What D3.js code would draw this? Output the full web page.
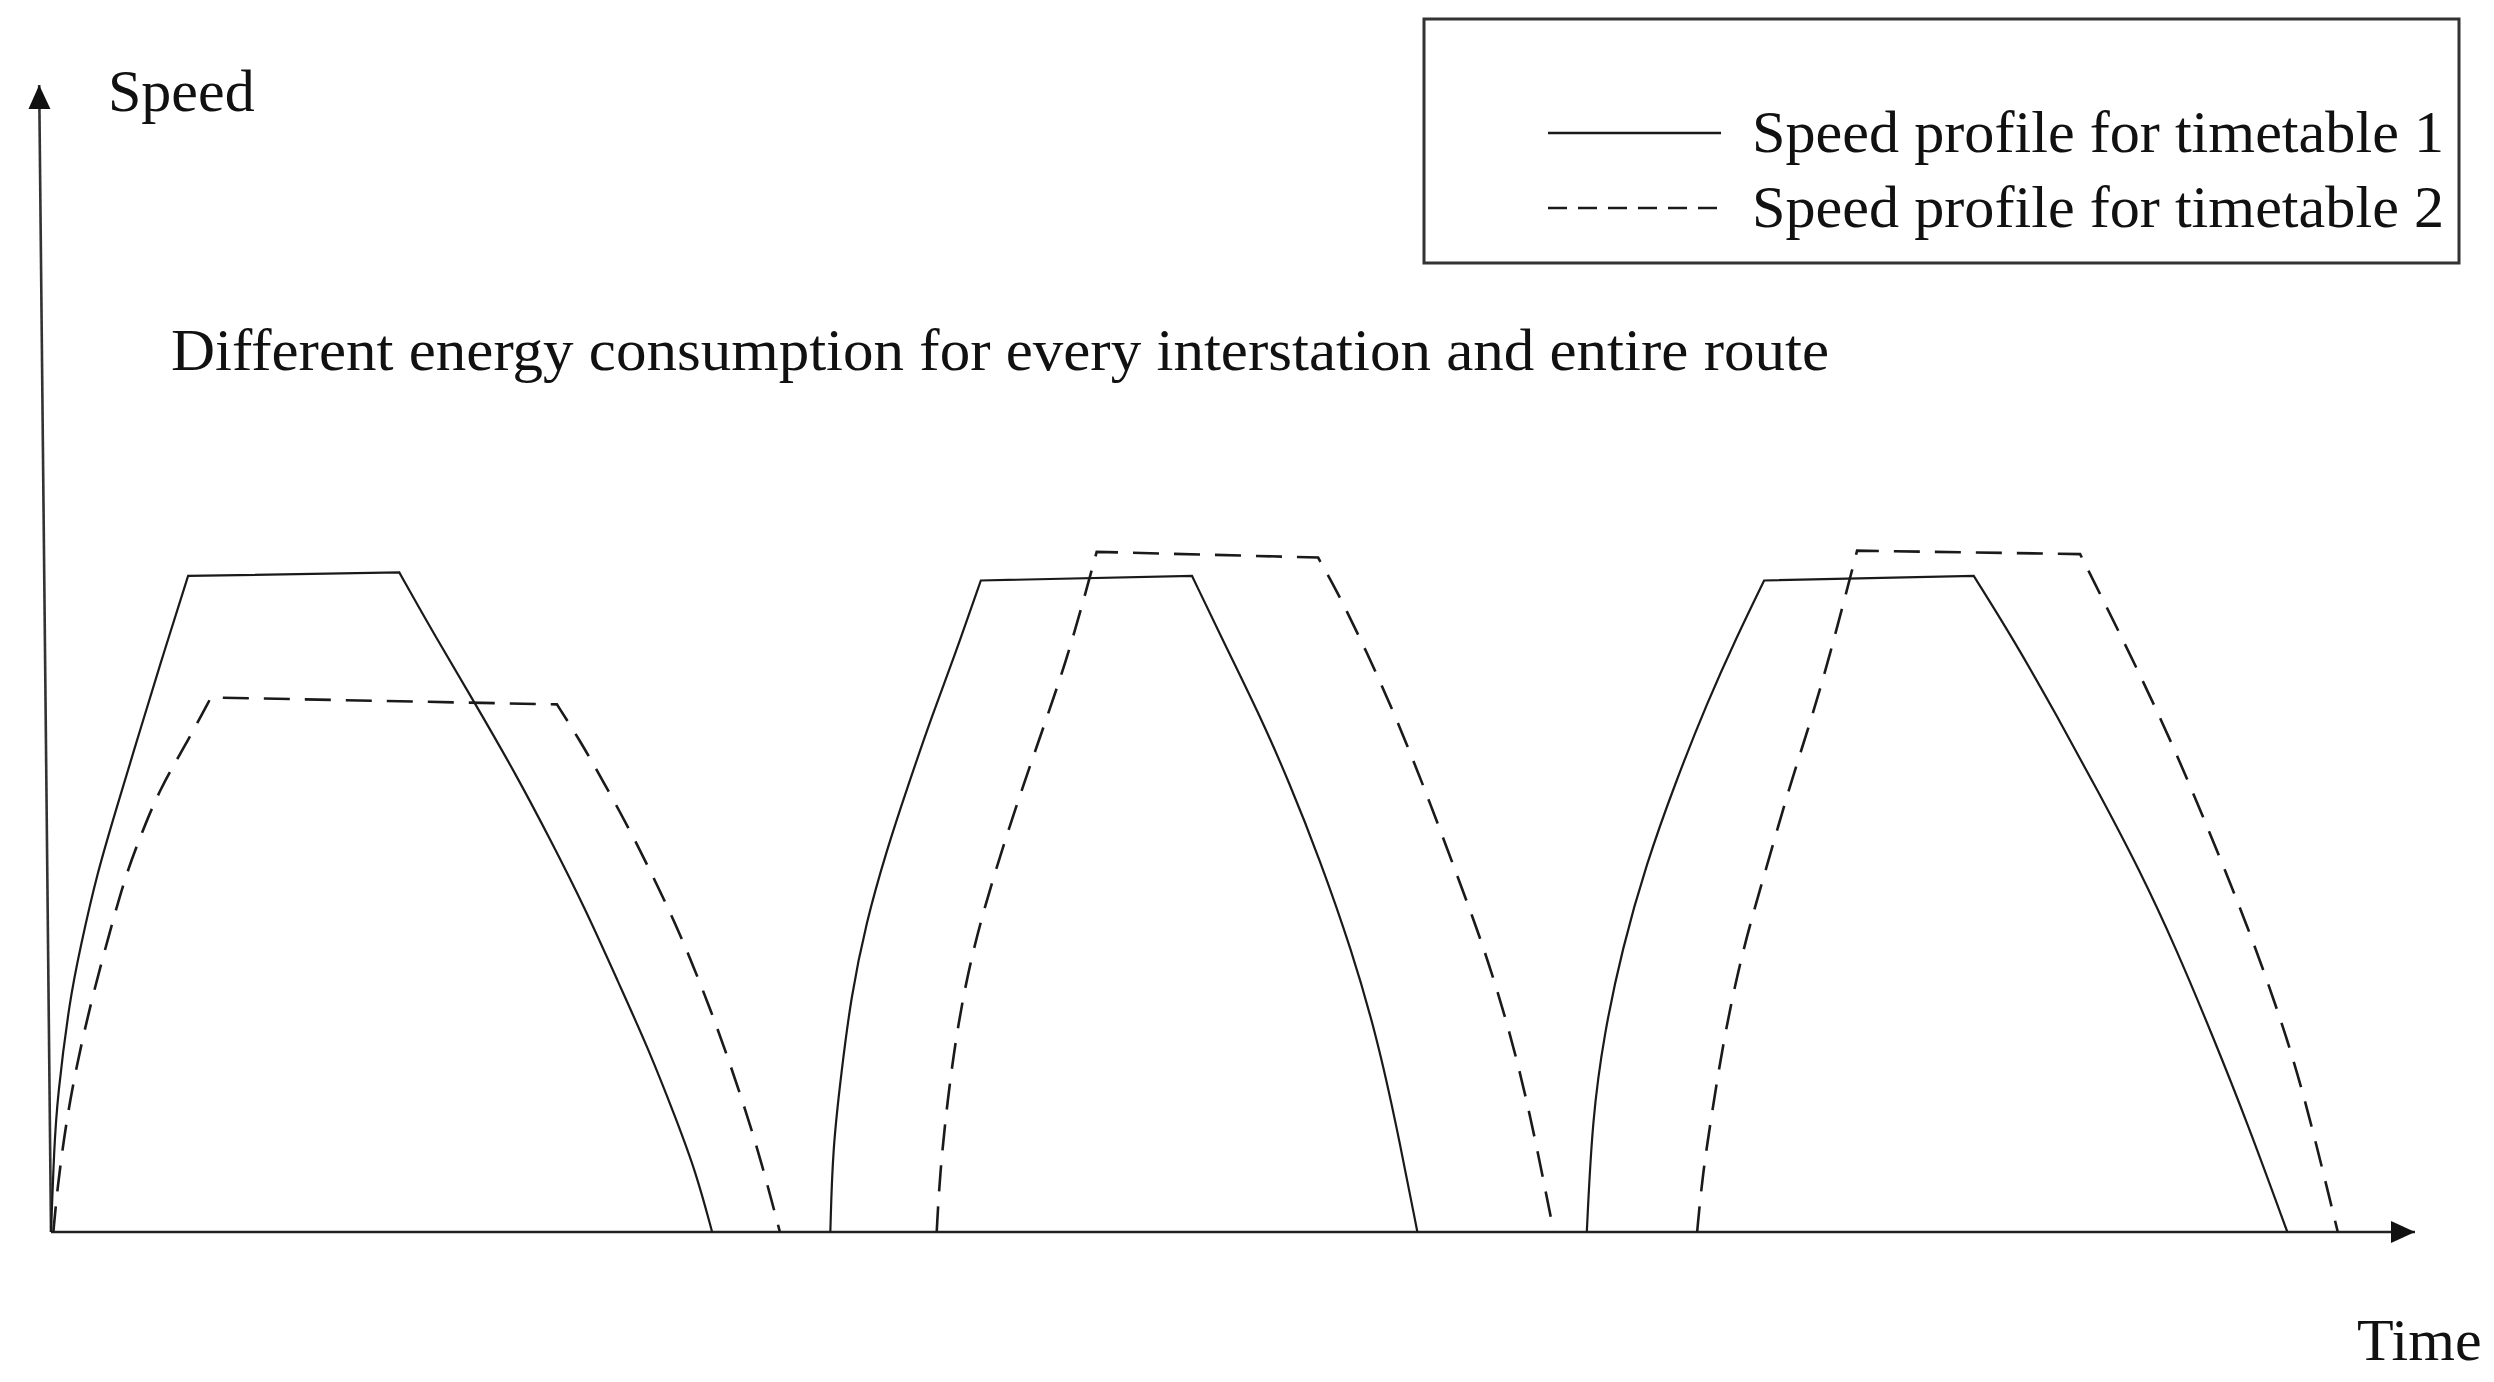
<!DOCTYPE html>
<html>
<head>
<meta charset="utf-8">
<script src="https://cdn.jsdelivr.net/npm/d3@7"></script>
<style>
  html, body { margin: 0; padding: 0; background: #fff; }
  svg { display: block; }
  text { font-family: "Liberation Serif", "Times New Roman", serif; fill: #111; }
</style>
</head>
<body>
<div id="chart"></div>
<script>
// speed profiles: [time, speed], time 0..300, speed 0..100
// accel = traction phase, brake = braking phase, cruise is the straight join between them
var tt1Accel = [
    [[0, 0], [0.4, 7.3], [0.8, 11.7], [2.4, 20.4], [3.7, 24.7], [5.8, 31.2], [8.6, 37.6], [11.5, 44.2], [14.4, 50.7], [17.4, 57.2]],
    [[98.9, 0], [99.2, 7.3], [100.3, 13.9], [101.5, 20.4], [103.4, 26.9], [106.1, 33.4], [108.6, 38.6], [111.9, 45.2], [114.5, 49.9], [118.0, 56.8]],
    [[194.9, 0], [195.6, 9.9], [197.1, 17.3], [199.4, 24.7], [202.4, 32.0], [206.2, 39.3], [210.2, 46.2], [214.0, 52.0], [217.4, 56.8]]
];
var tt1Brake = [
    [[44.2, 57.5], [48.7, 52.0], [53.9, 46.0], [59.0, 39.9], [63.3, 34.3], [67.8, 28.2], [72.1, 21.6], [75.8, 16.0], [79.3, 9.9], [81.9, 5.1], [83.9, 0]],
    [[144.8, 57.2], [148.7, 51.6], [153.3, 45.2], [157.2, 39.1], [161.0, 32.5], [165.0, 24.7], [168.3, 16.9], [170.8, 9.1], [173.4, 0]],
    [[244.0, 57.2], [249.1, 51.6], [254.4, 45.2], [259.8, 38.4], [265.1, 31.5], [269.7, 24.7], [274.2, 17.3], [278.8, 9.4], [283.8, 0]]
];
var tt2Accel = [
    [[0.3, 0], [0.8, 3.8], [1.9, 9.5], [3.3, 14.7], [5.2, 20.4], [7.4, 26.0], [9.5, 31.2], [11.7, 35.1], [13.8, 38.6], [17.1, 42.5], [20.3, 46.6]],
    [[112.4, 0], [112.8, 5.1], [113.8, 11.7], [115.1, 18.2], [117.0, 24.7], [119.7, 31.2], [122.8, 37.8], [126.1, 44.3], [129.3, 50.7], [132.7, 59.3]],
    [[208.9, 0], [209.6, 5.1], [210.9, 10.9], [212.4, 17.3], [214.7, 24.7], [217.8, 32.0], [220.8, 39.3], [224.6, 47.2], [229.2, 59.4]]
];
var tt2Brake = [
    [[64.2, 46.0], [67.0, 43.0], [69.9, 39.5], [73.5, 35.0], [76.4, 31.0], [79.3, 26.8], [81.5, 23.2], [83.8, 19.2], [85.9, 15.2], [88.1, 10.7], [90.2, 6.0], [92.5, 0]],
    [[160.8, 58.8], [163.1, 56.0], [166.9, 50.7], [170.8, 44.7], [174.8, 37.8], [178.6, 30.8], [181.9, 24.7], [185.0, 17.8], [187.7, 10.4], [190.7, 0]],
    [[257.5, 59.1], [260.5, 55.0], [265.1, 48.6], [269.7, 41.8], [274.2, 34.4], [278.8, 26.6], [282.6, 19.3], [285.8, 12.4], [290.2, 0]]
];

var legendLabels = ['Speed profile for timetable 1', 'Speed profile for timetable 2'];
var noteText = 'Different energy consumption for every interstation and entire route';
var xTitle = 'Time', yTitle = 'Speed';

var width = 2494, height = 1382;

var x = d3.scaleLinear().domain([0, 300]).range([51, 2415]);
var y = d3.scaleLinear().domain([0, 100]).range([1232, 85]);

var svg = d3.select('#chart').append('svg')
    .attr('width', width)
    .attr('height', height)
    .style('background', '#fff');

svg.append('defs').append('marker')
    .attr('id', 'arrow')
    .attr('markerUnits', 'userSpaceOnUse')
    .attr('viewBox', '0 -12 26 24')
    .attr('markerWidth', 26)
    .attr('markerHeight', 24)
    .attr('refX', 24)
    .attr('refY', 0)
    .attr('orient', 'auto')
  .append('path')
    .attr('d', 'M0,-11L24,0L0,11Z')
    .style('fill', '#111');

var line = d3.line()
    .x(function(d) { return x(d[0]); })
    .y(function(d) { return y(d[1]); });

// basis spline keeps the hand-read points from wobbling
var smooth = d3.line()
    .x(function(d) { return x(d[0]); })
    .y(function(d) { return y(d[1]); })
    .curve(d3.curveBasis);

// axes: plain arrows, the speed axis leans a little like in the original
svg.append('path')
    .attr('d', line([[0, 0], [300, 0]]))
    .attr('marker-end', 'url(#arrow)')
    .style('fill', 'none').style('stroke', '#222').style('stroke-width', 2.6);
svg.append('path')
    .attr('d', line([[0, 0], [-1.5, 100]]))
    .attr('marker-end', 'url(#arrow)')
    .style('fill', 'none').style('stroke', '#333').style('stroke-width', 2.6);

// one path per trip: accel curve, straight cruise, brake curve
function tripPath(accel, brake) {
    return smooth(accel) + 'L' + smooth(brake).slice(1);
}

function drawProfile(accel, brake, dash, sw) {
    svg.append('g').selectAll('path')
        .data(d3.range(accel.length))
        .enter().append('path')
        .attr('d', function(i) { return tripPath(accel[i], brake[i]); })
        .style('fill', 'none')
        .style('stroke', '#1a1a1a')
        .style('stroke-width', sw)
        .style('stroke-dasharray', dash);
}

drawProfile(tt1Accel, tt1Brake, null, 2.2);
drawProfile(tt2Accel, tt2Brake, '26,15', 2.6);

// titles
svg.append('text')
    .attr('x', 108).attr('y', 111)
    .style('font-size', '60px')
    .text(yTitle);
svg.append('text')
    .attr('x', 2357).attr('y', 1360)
    .style('font-size', '60px')
    .text(xTitle);
svg.append('text')
    .attr('x', 171).attr('y', 370)
    .attr('textLength', 1658)
    .attr('lengthAdjust', 'spacingAndGlyphs')
    .style('font-size', '60px')
    .text(noteText);

// legend
var legend = svg.append('g');
legend.append('rect')
    .attr('x', 1424).attr('y', 19)
    .attr('width', 1035).attr('height', 244)
    .style('fill', '#fff')
    .style('stroke', '#333')
    .style('stroke-width', 3);

var item = legend.selectAll('g.item')
    .data(legendLabels)
    .enter().append('g')
    .attr('class', 'item')
    .attr('transform', function(d, i) { return 'translate(0,' + (i * 75) + ')'; });

item.append('line')
    .attr('x1', 1548).attr('x2', 1721)
    .attr('y1', 133).attr('y2', 133)
    .style('stroke', '#1a1a1a')
    .style('stroke-width', 2.4)
    .style('stroke-dasharray', function(d, i) { return i ? '19,11' : null; });

item.append('text')
    .attr('x', 1752).attr('y', 152)
    .attr('textLength', 692)
    .attr('lengthAdjust', 'spacingAndGlyphs')
    .style('font-size', '60px')
    .text(function(d) { return d; });
</script>
</body>
</html>
